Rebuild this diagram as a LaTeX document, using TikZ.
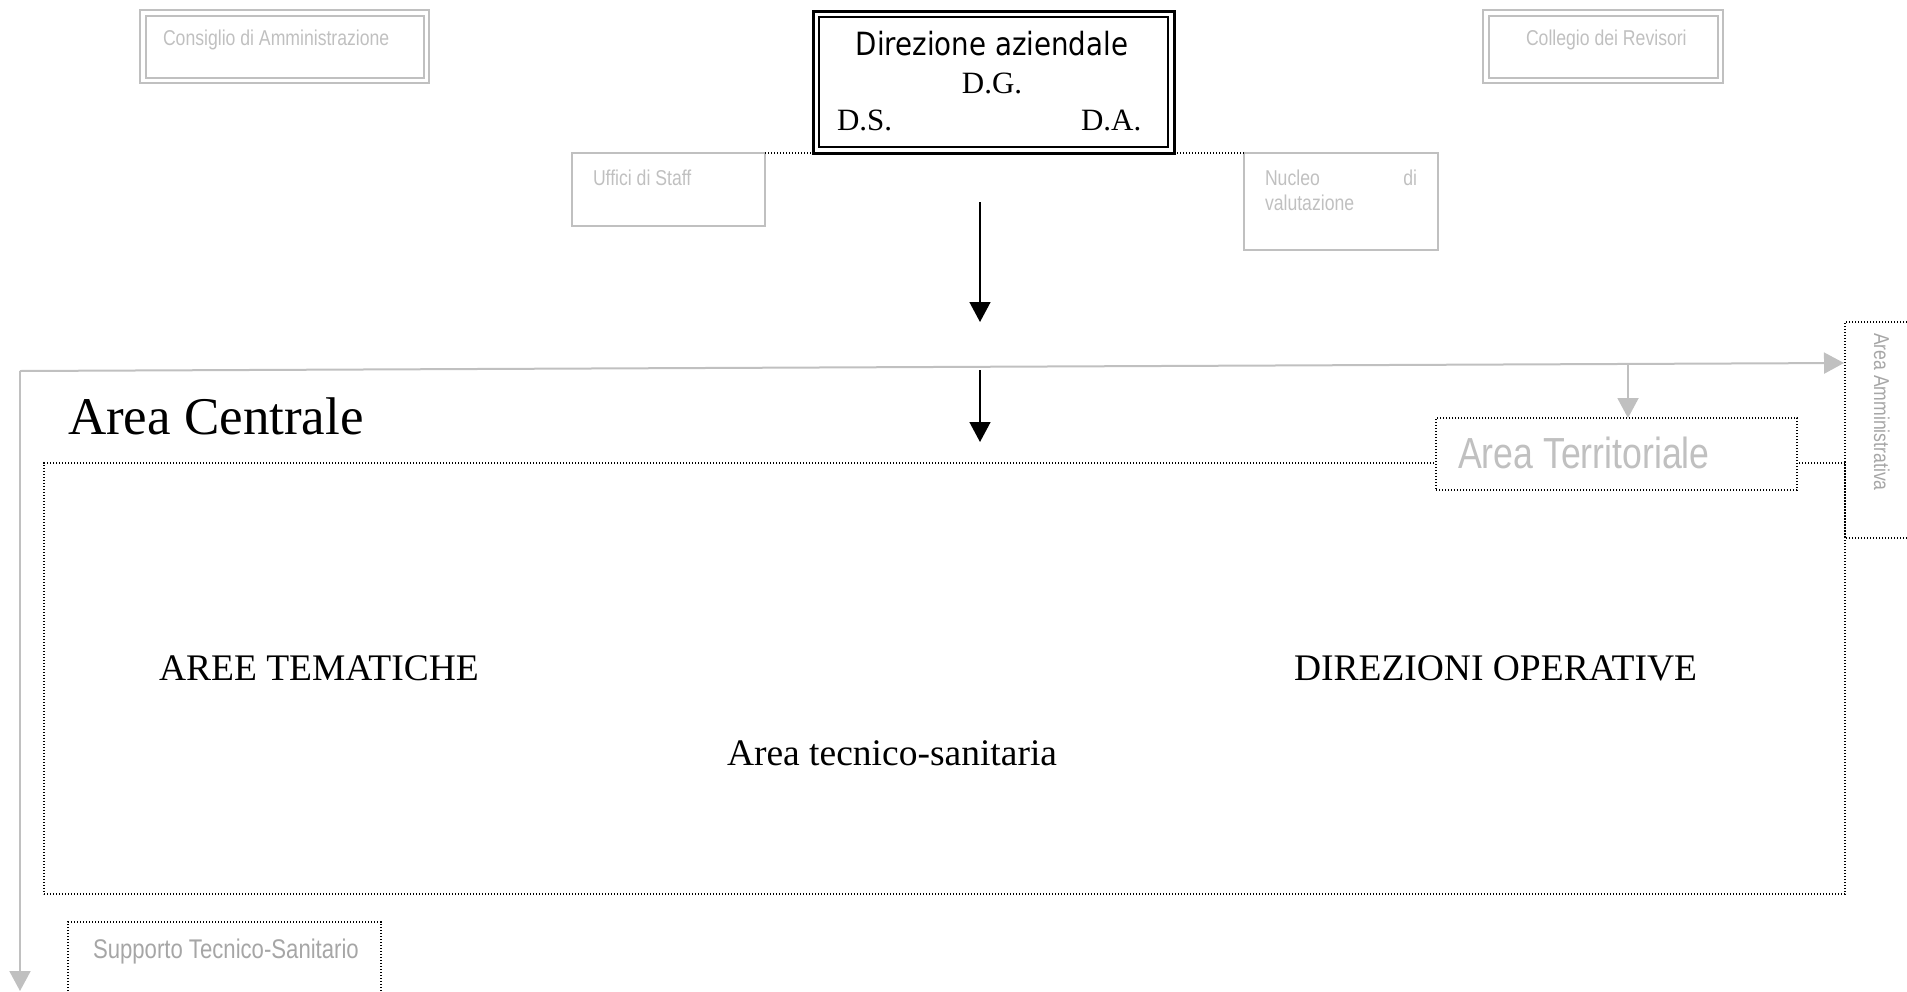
\documentclass[tikz,border=0pt]{standalone}
\usepackage{fontspec}
\setmainfont{Liberation Serif}
\newfontfamily\narrowfont[FakeStretch=0.82]{Liberation Sans}
\newfontfamily\tahomafont[FakeStretch=0.865]{DejaVu Sans}
\usetikzlibrary{arrows.meta}
\definecolor{lgray}{RGB}{192,192,192}
\definecolor{tgray}{RGB}{192,192,192}
\definecolor{dgray}{RGB}{166,166,166}
\begin{document}
\begin{tikzpicture}[x=1pt,y=-1pt,
  dots/.style={draw=black,line width=1.3pt,dash pattern=on 1.4pt off 1.6pt},
  graybox/.style={draw=lgray,line width=2.6pt,inner sep=0pt,outer sep=0pt,anchor=north west},
  dotbox/.style={dots,inner sep=0pt,outer sep=0pt,anchor=north west},
  txt/.style={inner sep=0pt,outer sep=0pt},
  smallgray/.style={txt,text=tgray,font=\narrowfont\fontsize{21.5}{25}\selectfont},
  blackarrow/.style={draw=black,line width=1.5pt,-{Triangle[width=21pt,length=20pt]}},
  grayarrow/.style={draw=lgray,line width=2pt,-{Triangle[width=21pt,length=20pt]}}
]
\useasboundingbox (0,0) rectangle (1907,991);

% --- top boxes
\node[graybox,minimum width=289pt,minimum height=73pt] (cda) at (140,10) {};
\draw[lgray,line width=2pt] ([shift={(5.5,5.5)}]cda.north west) rectangle ([shift={(-5.5,-5.5)}]cda.south east);
\node[smallgray,anchor=base west] (cdat) at (163,45) {Consiglio di Amministrazione};

\node[graybox,minimum width=240pt,minimum height=73pt] (cdr) at (1483,10) {};
\draw[lgray,line width=2pt] ([shift={(5.5,5.5)}]cdr.north west) rectangle ([shift={(-5.5,-5.5)}]cdr.south east);
\node[smallgray,anchor=base west] (cdrt) at (1526,45) {Collegio dei Revisori};

\node[draw=black,line width=3pt,inner sep=0pt,outer sep=0pt,anchor=north west,
      minimum width=361pt,minimum height=142pt] (dir) at (813,11) {};
\draw[black,line width=2pt] ([shift={(6,6)}]dir.north west) rectangle ([shift={(-6,-6)}]dir.south east);
\node[txt,anchor=base,font=\tahomafont\fontsize{32}{38}\selectfont] (dirt) at (992,55) {Direzione aziendale};
\node[txt,anchor=base,font=\fontsize{31}{36}\selectfont] (dg) at (992,93) {D.G.};
\node[txt,anchor=base west,font=\fontsize{31}{36}\selectfont] (ds) at (837,130) {D.S.};
\node[txt,anchor=base west,font=\fontsize{31}{36}\selectfont] (da) at (1081,130) {D.A.};

\node[graybox,minimum width=193pt,minimum height=73pt] (uff) at (572,153) {};
\node[smallgray,anchor=base west] (ufft) at (593,185) {Uffici di Staff};

\node[graybox,minimum width=194pt,minimum height=97pt] (nuc) at (1244,153) {};
\node[smallgray,anchor=base west] (nuct1) at (1265,185) {Nucleo};
\node[smallgray,anchor=base east] (nuct2) at (1417,185) {di};
\node[smallgray,anchor=base west] (nuct3) at (1265,210) {valutazione};

\draw[dots] (uff.north east) -- (dir.south west);
\draw[dots] (dir.south east) -- (nuc.north west);

% --- black arrows
\coordinate (a1s) at (980,202);
\coordinate (a1e) at (980,322);
\coordinate (a2s) at (980,370);
\coordinate (a2e) at (980,442);
\draw[blackarrow] (a1s) -- (a1e);
\draw[blackarrow] (a2s) -- (a2e);

% --- big dotted area
\node[dotbox,minimum width=1801pt,minimum height=431pt] (centr) at (44,463) {};
\node[txt,anchor=base west,font=\fontsize{53}{60}\selectfont] (centrt) at (68,434) {Area Centrale};

% Area Territoriale
\node[dotbox,fill=white,minimum width=361pt,minimum height=72pt] (terr) at (1436,418) {};
\node[txt,anchor=base west,text=tgray,font=\narrowfont\fontsize{43.5}{48}\selectfont] (terrt) at (1458,468) {Area Territoriale};

% Area Amministrativa (open to the right)
\coordinate (amnw) at (1845,322);
\coordinate (amsw) at (1845,538);
\coordinate (amne) at (1907,322);
\coordinate (amse) at (1907,538);
\draw[dots] (amne) -- (amnw) -- (amsw) -- (amse);
\node[txt,rotate=-90,anchor=base west,text=dgray,font=\narrowfont\fontsize{21.5}{25}\selectfont] (ammt) at (1874,333) {Area Amministrativa};

% Supporto Tecnico-Sanitario (open at bottom)
\coordinate (sup1) at (68,991);
\coordinate (sup2) at (68,922);
\coordinate (sup3) at (381,922);
\coordinate (sup4) at (381,991);
\draw[dots] (sup1) -- (sup2) -- (sup3) -- (sup4);
\node[txt,anchor=base west,text=dgray,font=\narrowfont\fontsize{27}{31}\selectfont] (supt) at (93,958) {Supporto Tecnico-Sanitario};

% --- gray connectors
\coordinate (corner) at (20,371);
\coordinate (ammtip) at (1844,363);
\coordinate (bottip) at (20,991);
\coordinate (tbr) at (1628,364);
\draw[grayarrow] (corner) -- (ammtip);
\draw[grayarrow] (corner) -- (bottip);
\draw[grayarrow] (tbr) -- (tbr |- terr.north);

% --- inner texts
\node[txt,anchor=base west,font=\fontsize{37.5}{44}\selectfont] (aree) at (159,680) {AREE TEMATICHE};
\node[txt,anchor=base west,font=\fontsize{37.5}{44}\selectfont] (dirop) at (1294,680) {DIREZIONI OPERATIVE};
\node[txt,anchor=base west,font=\fontsize{37.5}{44}\selectfont] (ats) at (727,765) {Area tecnico-sanitaria};
\end{tikzpicture}
\end{document}
